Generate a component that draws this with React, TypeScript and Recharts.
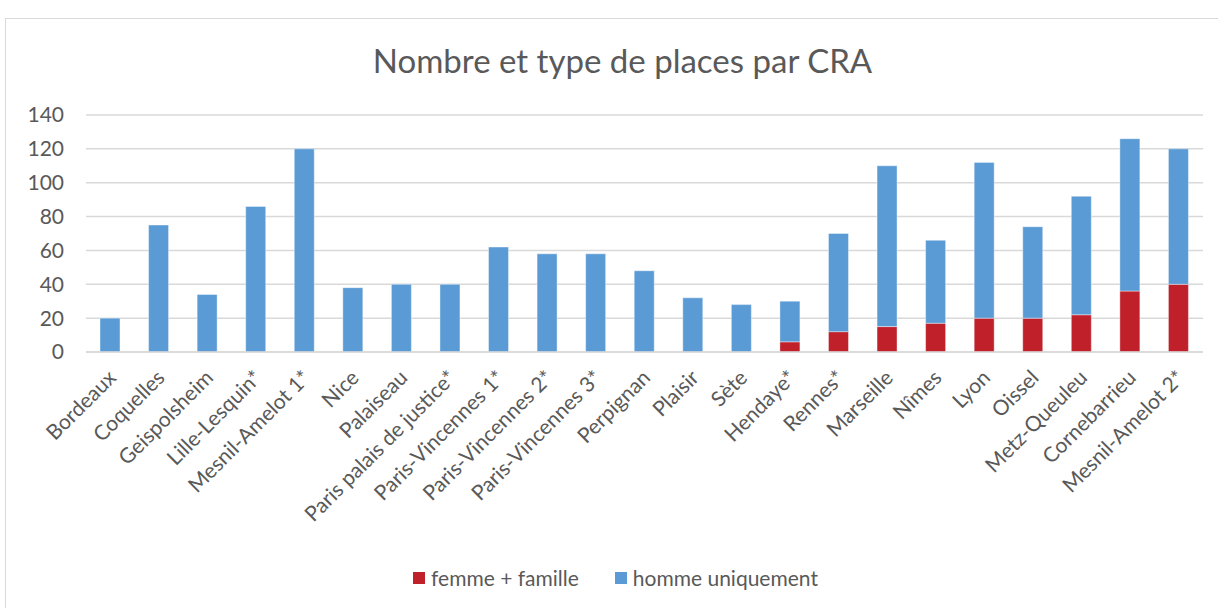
// Stacked bar chart: number and type of places per CRA (retention centre).
import { BarChart, Bar, XAxis, YAxis, CartesianGrid, Legend } from "recharts";

const centres = [
  "Bordeaux",
  "Coquelles",
  "Geispolsheim",
  "Lille-Lesquin*",
  "Mesnil-Amelot 1*",
  "Nice",
  "Palaiseau",
  "Paris palais de justice*",
  "Paris-Vincennes 1*",
  "Paris-Vincennes 2*",
  "Paris-Vincennes 3*",
  "Perpignan",
  "Plaisir",
  "Sète",
  "Hendaye*",
  "Rennes*",
  "Marseille",
  "Nîmes",
  "Lyon",
  "Oissel",
  "Metz-Queuleu",
  "Cornebarrieu",
  "Mesnil-Amelot 2*",
];

const femmeFamille = [0, 0, 0, 0, 0, 0, 0, 0, 0, 0, 0, 0, 0, 0, 6, 12, 15, 17, 20, 20, 22, 36, 40];
const hommeUniquement = [20, 75, 34, 86, 120, 38, 40, 40, 62, 58, 58, 48, 32, 28, 24, 58, 95, 49, 92, 54, 70, 90, 80];

const yTicks = [0, 20, 40, 60, 80, 100, 120, 140];

const data = centres.map((name, i) => ({
  name,
  femme: femmeFamille[i],
  homme: hommeUniquement[i],
}));

const FONT = "Lato, 'Open Sans', sans-serif";
const GREY = "#595959";
const RED = "#C0202A";
const BLUE = "#5B9BD5";

function RotatedTick(props: any) {
  const { x, y, payload } = props;
  return (
    <g transform={`translate(${x},${y + 12})`}>
      <text
        transform="rotate(-45)"
        textAnchor="end"
        dy={10}
        fill={GREY}
        fontSize={21}
        fontFamily={FONT}
      >
        {payload.value}
      </text>
    </g>
  );
}

function LegendBox(props: any) {
  const items = props.payload || [];
  return (
    <div
      style={{
        display: "flex",
        justifyContent: "center",
        gap: 36,
        fontFamily: FONT,
        fontSize: 21,
        color: GREY,
        paddingLeft: 28,
      }}
    >
      {items.map((it: any) => (
        <span key={it.value} style={{ display: "flex", alignItems: "center" }}>
          <span
            style={{
              display: "inline-block",
              width: 12,
              height: 12,
              background: it.color,
              marginRight: 6,
            }}
          />
          {it.value}
        </span>
      ))}
    </div>
  );
}

export default function App() {
  return (
    <div
      style={{
        position: "absolute",
        left: 0,
        top: 0,
        width: 1218,
        height: 608,
        overflow: "hidden",
        background: "#fff",
      }}
    >
      <div
        style={{
          position: "absolute",
          left: 5,
          top: 18,
          width: 1240,
          height: 620,
          border: "1px solid #d9d9d9",
        }}
      />
      <div
        style={{
          position: "absolute",
          top: 40,
          left: 0,
          width: 1245,
          textAlign: "center",
          fontFamily: FONT,
          fontSize: 33,
          color: GREY,
        }}
      >
        Nombre et type de places par CRA
      </div>
      <div style={{ position: "absolute", left: 0, top: 0 }}>
        <BarChart
          width={1218}
          height={608}
          data={data}
          margin={{ top: 115, right: 15, bottom: 18, left: 0 }}
          barSize={20}
        >
          <CartesianGrid vertical={false} stroke="#d9d9d9" strokeWidth={1.5} />
          <XAxis
            dataKey="name"
            interval={0}
            height={213}
            tick={<RotatedTick />}
            tickLine={false}
            axisLine={{ stroke: "#d9d9d9", strokeWidth: 1.5 }}
          />
          <YAxis
            width={86}
            domain={[0, 140]}
            ticks={yTicks}
            tickLine={false}
            axisLine={false}
            tickSize={0}
            tickMargin={22}
            tick={{ fill: GREY, fontSize: 21, fontFamily: FONT }}
          />
          <Legend verticalAlign="bottom" content={<LegendBox />} />
          <Bar
            dataKey="femme"
            name="femme + famille"
            stackId="a"
            fill={RED}
            stroke="#ffffff"
            strokeOpacity={0.4}
            isAnimationActive={false}
          />
          <Bar
            dataKey="homme"
            name="homme uniquement"
            stackId="a"
            fill={BLUE}
            stroke="#ffffff"
            strokeOpacity={0.4}
            isAnimationActive={false}
          />
        </BarChart>
      </div>
    </div>
  );
}
